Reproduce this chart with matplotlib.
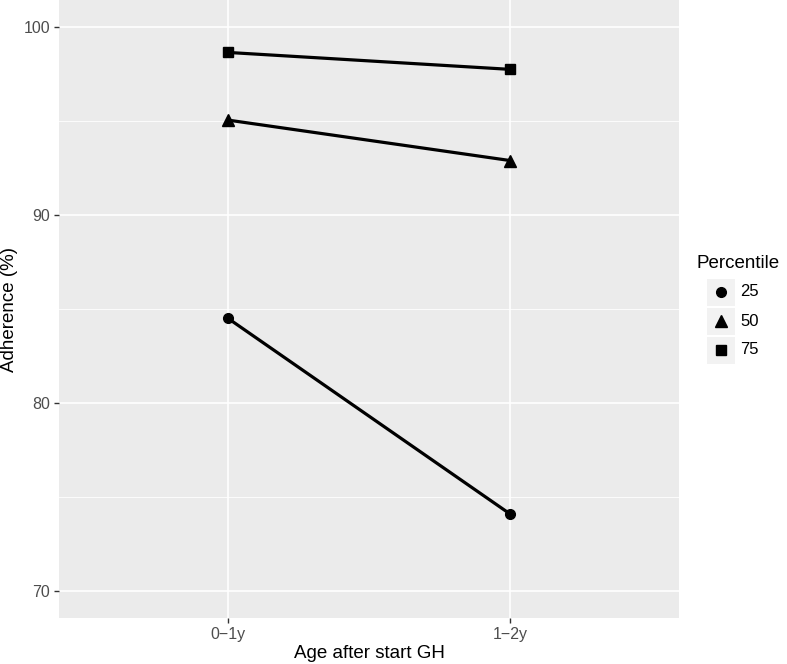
import matplotlib
matplotlib.use("Agg")
import matplotlib.pyplot as plt
from matplotlib.patches import Rectangle
from matplotlib.lines import Line2D

categories = ["0\u22121y", "1\u22122y"]
percentiles = ["25", "50", "75"]
values_25 = [84.5, 74.1]
values_50 = [95.05, 92.9]
values_75 = [98.65, 97.75]
markers = ["o", "^", "s"]
yticks = [70, 80, 90, 100]

plt.rcParams['font.family'] = ['Liberation Sans', 'DejaVu Sans']

W, H = 787, 664
fig = plt.figure(figsize=(W/100, H/100), dpi=100)
left, right, top, bottom = 59, 679, 0, 618
ax = fig.add_axes([left/W, 1 - bottom/H, (right-left)/W, (bottom-top)/H])
ax.set_facecolor("#EBEBEB")
for s in ax.spines.values():
    s.set_visible(False)

xpos = list(range(1, len(categories)+1))
ax.set_xlim(0.4, 2.6)
ax.set_ylim(68.56, 101.44)

# grid
for y in [75, 85, 95]:
    ax.axhline(y, color="white", lw=0.6, zorder=0)
for y in yticks:
    ax.axhline(y, color="white", lw=1.2, zorder=0)
for x in xpos:
    ax.axvline(x, color="white", lw=1.2, zorder=0)

def msize(m):
    return {"o": 7, "^": 8, "s": 6.5}[m]

series = [values_25, values_50, values_75]
for vals, m in zip(series, markers):
    ax.plot(xpos, vals, color="black", lw=2.3, marker=m, markersize=msize(m), zorder=3)

ax.set_xticks(xpos)
ax.set_xticklabels(categories)
ax.set_yticks(yticks)
ax.tick_params(axis="both", colors="#333333", labelcolor="#4D4D4D", labelsize=11.5,
               length=3.5, width=1.0)
ax.tick_params(axis="x", pad=3)
ax.tick_params(axis="y", pad=3)
ax.set_xlabel("Age after start GH", fontsize=13.5, color="black", labelpad=2)
ax.set_ylabel("Adherence (%)", fontsize=13.5, color="black", labelpad=4)

# legend
fig.text(697/W, 1 - 263/H, "Percentile", fontsize=13.5, va="center", ha="left")
key_centers = [292, 321, 350]
for yc, m, lab in zip(key_centers, markers, percentiles):
    fig.patches.append(Rectangle((707/W, 1 - (yc+13.5)/H), 28/W, 27/H,
                                 transform=fig.transFigure, facecolor="#F2F2F2",
                                 edgecolor="none"))
    fig.lines.append(Line2D([721/W], [1 - yc/H], transform=fig.transFigure,
                            marker=m, color="black", markersize=msize(m), linestyle="none"))
    fig.text(740/W, 1 - yc/H, lab, fontsize=12, va="center", ha="left")

fig.savefig("out.png", dpi=100)
